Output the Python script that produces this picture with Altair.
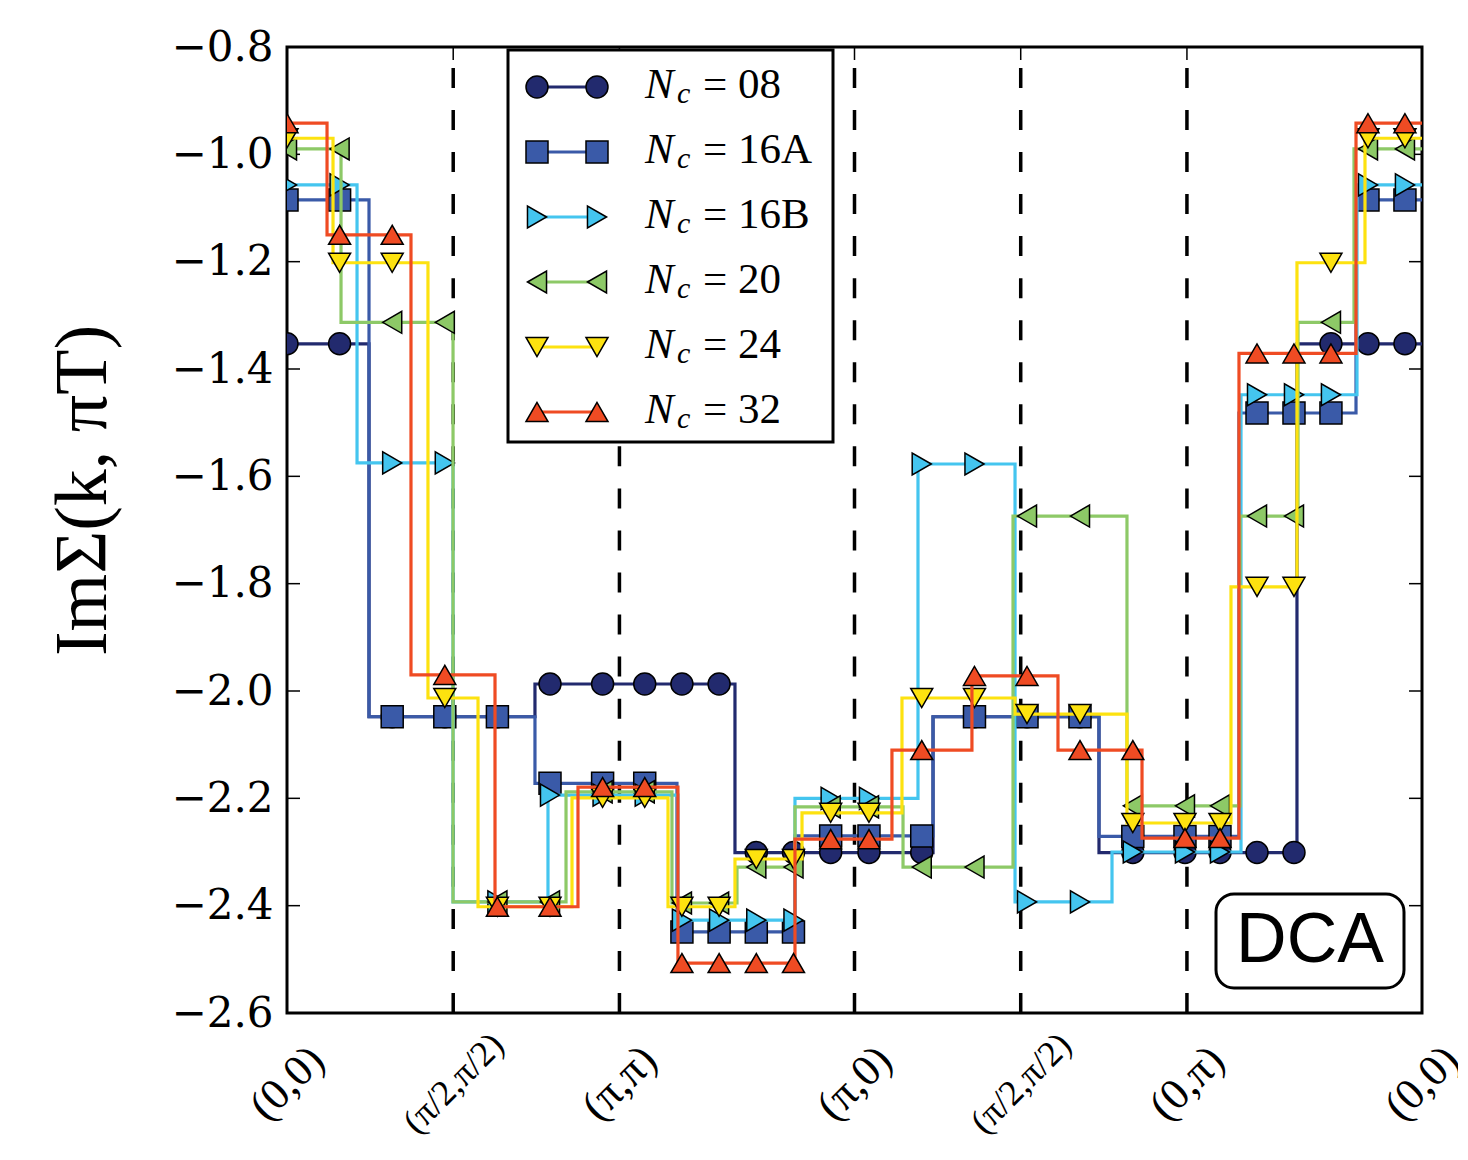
import bisect
import math
import altair as alt
import pandas as pd

# ---------------- data ----------------
# k-path (in units of pi) and its tick labels
path_points = [(0, 0), (0.5, 0.5), (1, 1), (1, 0), (0.5, 0.5), (0, 1), (0, 0)]
path_labels = ["(0,0)", "(π/2,π/2)", "(π,π)", "(π,0)", "(π/2,π/2)", "(0,π)", "(0,0)"]

series_keys = ["08", "16A", "16B", "20", "24", "32"]
series_colors = ["#222a6e", "#3a5aa8", "#44c5ef", "#8dc967", "#fde20f", "#ef4b23"]
series_shapes = ["circle", "square", "triangle-right", "triangle-left", "triangle-down", "triangle-up"]

# step functions: path position where each plateau starts, and its value
breaks_08 = [0, 1.096, 3.314, 5.987, 8.634, 10.852, 13.498]
values_08 = [-1.353, -2.048, -1.987, -2.301, -2.048, -2.301, -1.353]

breaks_16A = [0, 1.096, 3.314, 5.212, 6.789, 8.634, 10.852, 12.723, 14.287]
values_16A = [-1.085, -2.048, -2.172, -2.449, -2.270, -2.048, -2.271, -1.482, -1.085]

breaks_16B = [0, 0.936, 2.219, 3.488, 5.225, 6.789, 8.433, 9.730, 11.026, 12.750, 14.300]
values_16B = [-1.057, -1.575, -2.393, -2.194, -2.427, -2.200, -1.577, -2.393, -2.300, -1.448, -1.057]

breaks_20 = [0, 0.722, 2.219, 3.729, 5.145, 6.014, 6.789, 8.233, 9.703, 11.226, 12.737, 13.512, 14.260]
values_20 = [-0.990, -1.313, -2.393, -2.188, -2.395, -2.328, -2.216, -2.328, -1.674, -2.214, -1.674, -1.313, -0.990]

breaks_24 = [0, 0.615, 1.884, 2.553, 3.809, 5.092, 5.987, 6.883, 8.219, 9.730, 11.226, 12.616, 13.498, 14.407]
values_24 = [-0.970, -1.202, -2.013, -2.402, -2.199, -2.402, -2.313, -2.227, -2.013, -2.043, -2.246, -1.806, -1.202, -0.970]

breaks_32 = [0, 0.535, 1.657, 2.780, 3.889, 5.225, 6.789, 8.085, 9.154, 10.304, 11.427, 12.723, 14.287]
values_32 = [-0.942, -1.150, -1.970, -2.402, -2.179, -2.507, -2.276, -2.110, -1.972, -2.110, -2.274, -1.371, -0.942]

# path positions of the markers
marker_x = [0, 0.703, 1.406, 2.109, 2.812, 3.515, 4.218, 4.781, 5.278, 5.775, 6.272, 6.769, 7.266,
            7.778, 8.483, 9.188, 9.890, 10.598, 11.304, 12.001, 12.469, 12.964, 13.458, 13.952,
            14.447, 14.941]

y_ticks = [-2.6, -2.4, -2.2, -2.0, -1.8, -1.6, -1.4, -1.2, -1.0, -0.8]

series_breaks = [breaks_08, breaks_16A, breaks_16B, breaks_20, breaks_24, breaks_32]
series_values = [values_08, values_16A, values_16B, values_20, values_24, values_32]

# ---------------- derived tables ----------------
cum = [0.0]
for (a, b), (c, d) in zip(path_points[:-1], path_points[1:]):
    cum.append(cum[-1] + math.pi * math.hypot(c - a, d - b))
L = cum[-1]

line_rows, mark_rows = [], []
for key, br, vals in zip(series_keys, series_breaks, series_values):
    for i, (bx, v) in enumerate(zip(br, vals)):
        line_rows.append({"series": key, "x": bx, "y": v, "o": i})
    line_rows.append({"series": key, "x": L, "y": vals[-1], "o": len(br)})
    for mx in marker_x:
        idx = bisect.bisect_right(br, mx) - 1
        mark_rows.append({"series": key, "x": mx, "y": vals[idx]})
df_lines = pd.DataFrame(line_rows)
df_marks = pd.DataFrame(mark_rows)

# ---------------- layout ----------------
W, H = 1135, 966
X0PX, Y0PX = 287, 47
YMIN, YMAX = -2.6, -0.8


def px2x(px):
    return (px - X0PX) / W * L


def py2y(py):
    return YMAX - (py - Y0PX) / H * (YMAX - YMIN)


x_scale = alt.Scale(domain=[0, L], nice=False, zero=False)
y_scale = alt.Scale(domain=[YMIN, YMAX], nice=False, zero=False)

label_expr = "''"
for v, lab in reversed(list(zip(cum, path_labels))):
    label_expr = f"abs(datum.value - {v:.5f}) < 0.01 ? '{lab}' : ({label_expr})"
frac_test = " || ".join(f"abs(datum.value - {v:.5f}) < 0.01"
                        for v, lab in zip(cum, path_labels) if "/" in lab)

x_axis = alt.Axis(values=cum, labelExpr=label_expr, labelAngle=315, labelAlign="center",
                  labelBaseline="middle", labelPadding=70, labelFont="Liberation Serif",
                  labelFontSize={"condition": {"test": frac_test, "value": 36}, "value": 44},
                  labelColor="black", labelLimit=0, ticks=False, tickSize=0,
                  domain=False, grid=False, title=None, labelFlush=False, labelOverlap=False)
y_axis = alt.Axis(values=y_ticks, format=".1f", labelFont="DejaVu Serif", labelFontSize=42,
                  labelColor="black", labelPadding=14, ticks=False, tickSize=0, domain=False,
                  grid=False, labelFlush=False, labelOverlap=False,
                  title="ImΣ(k, πT)", titleFont="Liberation Serif", titleFontSize=74,
                  titleFontWeight="normal", titleColor="black", titleX=-204, titleY=443,
                  titleAngle=270, titleAlign="center", titleBaseline="middle")


def X(f):
    return alt.X(f, type="quantitative", scale=x_scale, axis=x_axis)


def Y(f):
    return alt.Y(f, type="quantitative", scale=y_scale, axis=y_axis)


layers = []

# dashed high-symmetry lines (drawn bottom to top)
df_v = pd.DataFrame({"x": cum[1:-1]})
layers.append(alt.Chart(df_v).mark_rule(color="black", strokeWidth=3.5, strokeDash=[20, 22.05])
              .encode(x=X("x"), y=alt.value(H), y2=alt.value(0)))
# inward ticks
df_yt = pd.DataFrame({"y": y_ticks})
layers.append(alt.Chart(df_yt).mark_rule(color="black", strokeWidth=1.5)
              .encode(y=Y("y"), x=alt.value(0), x2=alt.value(13)))
layers.append(alt.Chart(df_yt).mark_rule(color="black", strokeWidth=1.5)
              .encode(y=Y("y"), x=alt.value(W - 13), x2=alt.value(W)))
layers.append(alt.Chart(df_v).mark_rule(color="black", strokeWidth=1.5)
              .encode(x=X("x"), y=alt.value(H - 13), y2=alt.value(H)))
layers.append(alt.Chart(df_v).mark_rule(color="black", strokeWidth=1.5)
              .encode(x=X("x"), y=alt.value(0), y2=alt.value(13)))

# series
for key, color, shape in zip(series_keys, series_colors, series_shapes):
    layers.append(alt.Chart(df_lines).transform_filter(alt.datum.series == key)
                  .mark_line(interpolate="step-after", strokeWidth=3.2, color=color, clip=True)
                  .encode(x=X("x"), y=Y("y"), order="o:Q"))
    layers.append(alt.Chart(df_marks).transform_filter(alt.datum.series == key)
                  .mark_point(shape=shape, size=484, filled=True, fill=color, stroke="black",
                              strokeWidth=1.5, opacity=1, fillOpacity=1, strokeOpacity=1, clip=True)
                  .encode(x=X("x"), y=Y("y")))

# legend
color_scale = alt.Scale(domain=series_keys, range=series_colors)
shape_scale = alt.Scale(domain=series_keys, range=series_shapes)
df_box = pd.DataFrame([{"x": px2x(508), "x2": px2x(833), "y": py2y(50), "y2": py2y(442)}])
layers.append(alt.Chart(df_box).mark_rect(fill="white", stroke="black", strokeWidth=3)
              .encode(x=X("x"), x2="x2", y=Y("y"), y2="y2"))
leg_rows, leg_pts = [], []
for i, key in enumerate(series_keys):
    yc = 87 + 65 * i
    leg_rows.append({"series": key, "x": px2x(537), "x2": px2x(597), "y": py2y(yc),
                     "yb": py2y(yc + 11), "ys": py2y(yc + 16),
                     "xn": px2x(645), "xc": px2x(677), "xe": px2x(703),
                     "n": "N", "c": "c", "e": "= " + key})
    for px in (537, 597):
        leg_pts.append({"series": key, "x": px2x(px), "y": py2y(yc)})
df_leg = pd.DataFrame(leg_rows)
df_leg_pts = pd.DataFrame(leg_pts)
layers.append(alt.Chart(df_leg).mark_rule(strokeWidth=3.2)
              .encode(x=X("x"), x2="x2", y=Y("y"),
                      color=alt.Color("series:N", scale=color_scale, legend=None)))
layers.append(alt.Chart(df_leg_pts).mark_point(size=484, filled=True, stroke="black", strokeWidth=1.5,
                                               opacity=1, fillOpacity=1, strokeOpacity=1)
              .encode(x=X("x"), y=Y("y"),
                      fill=alt.Fill("series:N", scale=color_scale, legend=None),
                      shape=alt.Shape("series:N", scale=shape_scale, legend=None)))
layers.append(alt.Chart(df_leg).mark_text(font="Liberation Serif", fontSize=43, fontStyle="italic",
                                          align="left", baseline="alphabetic", color="black")
              .encode(x=X("xn"), y=Y("yb"), text="n:N"))
layers.append(alt.Chart(df_leg).mark_text(font="Liberation Serif", fontSize=30, fontStyle="italic",
                                          align="left", baseline="alphabetic", color="black")
              .encode(x=X("xc"), y=Y("ys"), text="c:N"))
layers.append(alt.Chart(df_leg).mark_text(font="Liberation Serif", fontSize=43,
                                          align="left", baseline="alphabetic", color="black")
              .encode(x=X("xe"), y=Y("yb"), text="e:N"))

# DCA label box
df_dca = pd.DataFrame([{"x": px2x(1216), "x2": px2x(1404), "y": py2y(894), "y2": py2y(988),
                        "tx": px2x(1310), "ty": py2y(941), "t": "DCA"}])
layers.append(alt.Chart(df_dca).mark_rect(fill="white", stroke="black", strokeWidth=3, cornerRadius=18)
              .encode(x=X("x"), x2="x2", y=Y("y"), y2="y2"))
layers.append(alt.Chart(df_dca).mark_text(font="Liberation Sans", fontSize=70, align="center",
                                          baseline="middle", color="black")
              .encode(x=X("tx"), y=Y("ty"), text="t:N"))

chart = (alt.layer(*layers)
         .properties(width=W, height=H, background="white",
                     padding={"left": 279, "top": 39, "right": 36, "bottom": 128},
                     autosize=alt.AutoSizeParams(type="none"))
         .configure_view(stroke="black", strokeWidth=3))

chart.save("out.html", embed_options={"renderer": "svg", "actions": False})
